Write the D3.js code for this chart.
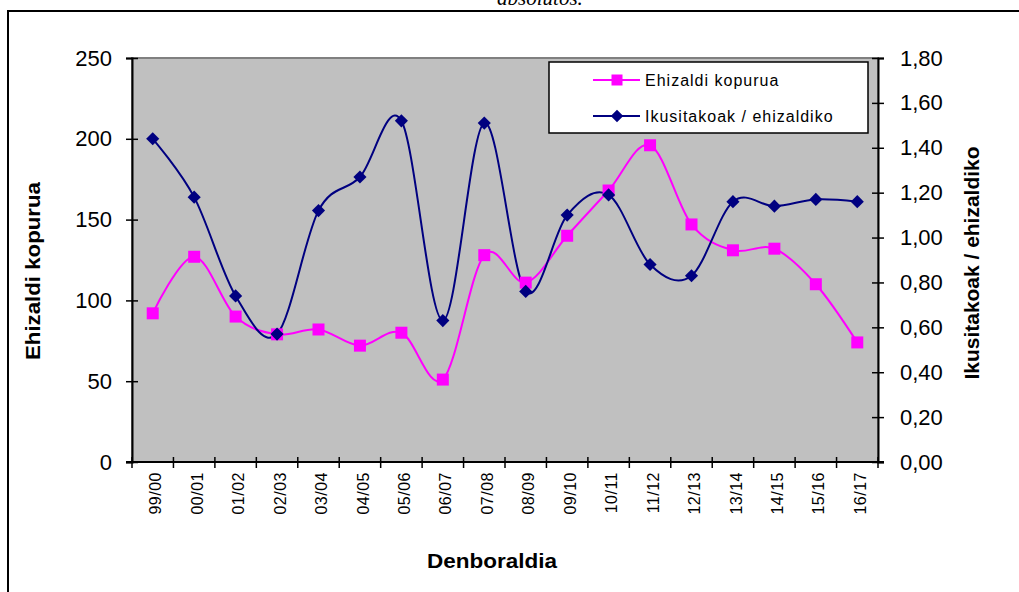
<!DOCTYPE html>
<html>
<head>
<meta charset="utf-8">
<script src="https://cdn.jsdelivr.net/npm/d3@7"></script>
<style>
  body { margin: 0; background: #fff; }
  svg { display: block; font-family: "Liberation Sans", Arial, sans-serif; }
</style>
</head>
<body>
<svg id="chart" width="1019" height="592"></svg>
<script>
// seasons on the x axis
const seasons = ["99/00", "00/01", "01/02", "02/03", "03/04", "04/05", "05/06", "06/07", "07/08",
  "08/09", "09/10", "10/11", "11/12", "12/13", "13/14", "14/15", "15/16", "16/17"];
// left axis series
const ehizaldiak = [92, 127, 90, 79, 82, 72, 80, 51, 128, 111, 140, 168, 196, 147, 131, 132, 110, 74];
// right axis series
const ikusitakoak = [1.44, 1.18, 0.74, 0.57, 1.12, 1.27, 1.52, 0.63, 1.51, 0.76, 1.10, 1.19, 0.88, 0.83, 1.16, 1.14, 1.17, 1.16];
const leftTicks = [0, 50, 100, 150, 200, 250];
const rightTicks = [0, 0.2, 0.4, 0.6, 0.8, 1.0, 1.2, 1.4, 1.6, 1.8];

const plot = { left: 132, right: 878, top: 58, bottom: 462 };
const pink = "#ff00ff", navy = "#000080";

const svg = d3.select("#chart");

// title of the page above, cut off by the top edge like in the original
svg.append("text")
  .attr("x", 540).attr("y", 5)
  .attr("text-anchor", "middle")
  .style("font-family", "'Liberation Serif', serif")
  .style("font-style", "italic")
  .style("font-size", "21px")
  .text("absolutos.");

// outer chart border (runs off to the right and bottom)
svg.append("rect")
  .attr("x", 8).attr("y", 11).attr("width", 1100).attr("height", 700)
  .attr("fill", "none").attr("stroke", "#000").attr("stroke-width", 2);

const x = d3.scaleBand().domain(seasons).range([plot.left, plot.right]);
const yL = d3.scaleLinear().domain([0, 250]).range([plot.bottom, plot.top]);
const yR = d3.scaleLinear().domain([0, 1.8]).range([plot.bottom, plot.top]);
const cx = (d) => x(d) + x.bandwidth() / 2;

// plot area
svg.append("rect")
  .attr("x", plot.left).attr("y", plot.top)
  .attr("width", plot.right - plot.left).attr("height", plot.bottom - plot.top)
  .attr("fill", "#c0c0c0").attr("stroke", "#808080").attr("stroke-width", 2);

// left axis
const gL = svg.append("g")
  .attr("transform", `translate(${plot.left},0)`)
  .call(d3.axisLeft(yL).tickValues(leftTicks).tickSize(6).tickPadding(14));
gL.selectAll(".tick line").attr("x1", -6).attr("x2", 6).attr("stroke-width", 1.5);
gL.select(".domain").attr("stroke-width", 2);
gL.selectAll("text").style("font-size", "22px").attr("fill", "#000");

// right axis
const gR = svg.append("g")
  .attr("transform", `translate(${plot.right},0)`)
  .call(d3.axisRight(yR).tickValues(rightTicks).tickSize(6).tickPadding(16)
    .tickFormat((d) => d3.format(".2f")(d).replace(".", ",")));
gR.selectAll(".tick line").attr("x1", -6).attr("x2", 6).attr("stroke-width", 1.5);
gR.select(".domain").attr("stroke-width", 2);
gR.selectAll("text").style("font-size", "22px").attr("fill", "#000");

// bottom axis: labels from the band scale, ticks between categories
const gB = svg.append("g")
  .attr("transform", `translate(0,${plot.bottom})`)
  .call(d3.axisBottom(x).tickSize(0).tickPadding(0));
gB.select(".domain").remove();
gB.selectAll(".tick text")
  .attr("transform", "translate(3,10) rotate(-90)")
  .attr("text-anchor", "end")
  .attr("dy", "0.35em")
  .attr("y", 0)
  .style("font-size", "16px")
  .style("letter-spacing", "0.5px")
  .attr("fill", "#000");
gB.append("line")
  .attr("x1", plot.left - 6).attr("x2", plot.right + 6)
  .attr("stroke", "#000").attr("stroke-width", 2);
gB.selectAll(".btick")
  .data(seasons.map((d) => x(d)).concat([plot.right]))
  .enter().append("line")
  .attr("class", "btick")
  .attr("x1", (d) => d).attr("x2", (d) => d)
  .attr("y1", -5).attr("y2", 6)
  .attr("stroke", "#000").attr("stroke-width", 1.5);

// smoothed lines
const curve = d3.curveCardinal.tension(0);
const lineL = d3.line().x((d, i) => cx(seasons[i])).y((d) => yL(d)).curve(curve);
const lineR = d3.line().x((d, i) => cx(seasons[i])).y((d) => yR(d)).curve(curve);

svg.append("path").attr("d", lineL(ehizaldiak))
  .attr("fill", "none").attr("stroke", pink).attr("stroke-width", 2);
svg.append("path").attr("d", lineR(ikusitakoak))
  .attr("fill", "none").attr("stroke", navy).attr("stroke-width", 2);

const sq = d3.symbol().type(d3.symbolSquare).size(144);
const dia = d3.symbol().type(d3.symbolDiamond2).size(110);

svg.selectAll(".m1").data(ehizaldiak).enter().append("path")
  .attr("class", "m1")
  .attr("d", sq)
  .attr("transform", (d, i) => `translate(${cx(seasons[i])},${yL(d)})`)
  .attr("fill", pink);

svg.selectAll(".m2").data(ikusitakoak).enter().append("path")
  .attr("class", "m2")
  .attr("d", dia)
  .attr("transform", (d, i) => `translate(${cx(seasons[i])},${yR(d)})`)
  .attr("fill", navy);

// legend
const legend = svg.append("g");
legend.append("rect")
  .attr("x", 549).attr("y", 62).attr("width", 319).attr("height", 71)
  .attr("fill", "#fff").attr("stroke", "#000").attr("stroke-width", 1.5);
const items = [
  { label: "Ehizaldi kopurua", color: pink, sym: d3.symbol().type(d3.symbolSquare).size(121), y: 80 },
  { label: "Ikusitakoak / ehizaldiko", color: navy, sym: d3.symbol().type(d3.symbolDiamond2).size(100), y: 116 },
];
items.forEach((it) => {
  legend.append("line")
    .attr("x1", 593).attr("x2", 640).attr("y1", it.y).attr("y2", it.y)
    .attr("stroke", it.color).attr("stroke-width", 2);
  legend.append("path")
    .attr("d", it.sym())
    .attr("transform", `translate(617,${it.y})`)
    .attr("fill", it.color);
  legend.append("text")
    .attr("x", 645).attr("y", it.y).attr("dy", "0.35em")
    .style("font-size", "16px")
    .style("letter-spacing", "1px")
    .text(it.label);
});

// axis titles
svg.append("text")
  .attr("transform", "translate(40,271) rotate(-90)")
  .attr("text-anchor", "middle")
  .style("font-size", "21px").style("font-weight", "bold")
  .attr("textLength", 178).attr("lengthAdjust", "spacingAndGlyphs")
  .text("Ehizaldi kopurua");

svg.append("text")
  .attr("transform", "translate(979,263) rotate(-90)")
  .attr("text-anchor", "middle")
  .style("font-size", "21px").style("font-weight", "bold")
  .attr("textLength", 233).attr("lengthAdjust", "spacingAndGlyphs")
  .text("Ikusitakoak / ehizaldiko");

svg.append("text")
  .attr("x", 492).attr("y", 568)
  .attr("text-anchor", "middle")
  .style("font-size", "21px").style("font-weight", "bold")
  .attr("textLength", 130).attr("lengthAdjust", "spacingAndGlyphs")
  .text("Denboraldia");
</script>
</body>
</html>
